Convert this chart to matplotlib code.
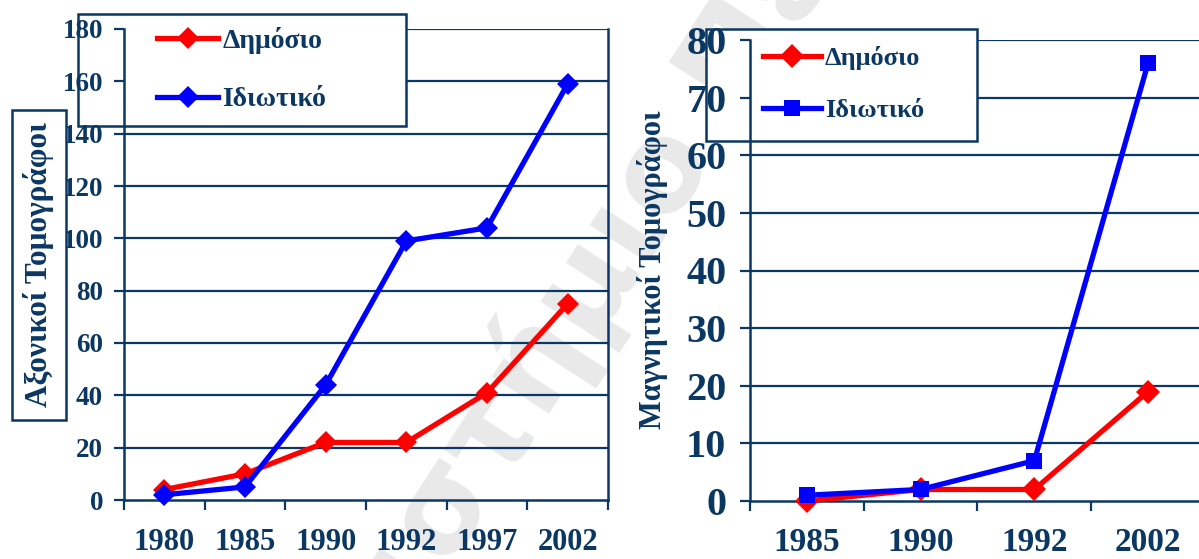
import matplotlib
matplotlib.use("Agg")
import matplotlib.pyplot as plt
from matplotlib.patches import Rectangle

# CT scanners (left chart)
ct_years = ['1980', '1985', '1990', '1992', '1997', '2002']
ct_public = [4, 10, 22, 22, 41, 75]
ct_private = [2, 5, 44, 99, 104, 159]

# MRI scanners (right chart)
mri_years = ['1985', '1990', '1992', '2002']
mri_public = [0, 2, 2, 19]
mri_private = [1, 2, 7, 76]

NAVY = '#0b3763'
RED = '#ff0000'
BLUE = '#0000ff'
FONT = 'Liberation Serif'

plt.rcParams['font.family'] = FONT
plt.rcParams['font.weight'] = 'bold'

W, H = 1199, 559
fig = plt.figure(figsize=(W / 100, H / 100), dpi=100)


def fig_box(left, top, right, bottom):
    """ pixel box (from top-left) -> figure fraction [l, b, w, h] """
    return [left / W, 1 - bottom / H, (right - left) / W, (bottom - top) / H]


def style_axes(ax, cats, ymax, ystep, xsize, ysize, ypad, xpad, right_spine):
    n = len(cats)
    ax.set_facecolor('none')
    ax.set_xlim(-0.5, n - 0.5)
    ax.set_ylim(0, ymax)
    ax.set_xticks([i - 0.5 for i in range(n + 1)])
    ax.set_xticklabels([])
    ax.set_xticks(range(n), minor=True)
    ax.set_xticklabels(cats, minor=True, fontsize=xsize, color=NAVY,
                       fontweight='bold')
    ax.tick_params(axis='x', which='major', direction='out', length=7.5,
                   width=1.6, color=NAVY)
    ax.tick_params(axis='x', which='minor', length=0, pad=xpad)
    yt = list(range(0, ymax + 1, ystep))
    ax.set_yticks(yt)
    ax.set_yticklabels([str(v) for v in yt], fontsize=ysize, color=NAVY,
                       fontweight='bold')
    ax.tick_params(axis='y', direction='out', length=7, width=1.6,
                   color=NAVY, pad=ypad)
    for v in yt[1:]:
        ax.axhline(v, color=NAVY, lw=1.6, zorder=0.6)
    ax.spines['top'].set_visible(False)
    ax.spines['right'].set_visible(right_spine)
    for s in ['left', 'bottom', 'right']:
        ax.spines[s].set_color(NAVY)
        ax.spines[s].set_linewidth(1.8)
        ax.spines[s].set_zorder(1.5)


# faint watermark behind everything
fig.text(0.50, 0.52, 'Πανεπιστήμιο Πειραιώς', rotation=57, fontsize=90,
         color='#e9e9e9', family='DejaVu Sans', fontweight='bold',
         ha='center', va='center', zorder=-5)

# ---------- left chart ----------
ax1 = fig.add_axes(fig_box(124, 29, 608, 500))
style_axes(ax1, ct_years, 180, 20, 22, 19.5, 8, 20, True)
x1 = range(len(ct_years))
ax1.plot(x1, ct_public, color=RED, lw=3.8, marker='D', ms=11.5, mew=0,
         label='Δημόσιο', clip_on=False, zorder=3)
ax1.plot(x1, ct_private, color=BLUE, lw=3.8, marker='D', ms=11.5, mew=0,
         label='Ιδιωτικό', clip_on=False, zorder=3)
ax1.add_patch(Rectangle((78 / W, 1 - 126 / H), 328 / W, 112 / H,
                        transform=fig.transFigure, facecolor='white',
                        edgecolor=NAVY, lw=1.8, zorder=1.0, clip_on=False))
leg1 = ax1.legend(loc='upper left', bbox_to_anchor=(157 / W, 1 - 27 / H),
                  bbox_transform=fig.transFigure, frameon=False,
                  prop={'family': FONT, 'weight': 'bold', 'size': 20},
                  handlelength=2.2, handletextpad=0.15, labelspacing=1.18,
                  borderpad=0, borderaxespad=0)
for t in leg1.get_texts():
    t.set_color(NAVY)

# boxed y label
fig.patches.append(Rectangle((12 / W, 1 - 420 / H), 54 / W, 310 / H,
                             transform=fig.transFigure, facecolor='white',
                             edgecolor=NAVY, lw=1.8, zorder=1))
fig.text(39 / W, 1 - 265 / H, 'Αξονικοί Τομογράφοι', rotation=90,
         ha='center', va='center', fontsize=22.5, color=NAVY,
         fontweight='bold', zorder=2)

# ---------- right chart ----------
ax2 = fig.add_axes(fig_box(750, 40, 1205, 501))
style_axes(ax2, mri_years, 80, 10, 24, 29, 10, 19, False)
x2 = range(len(mri_years))
ax2.plot(x2, mri_public, color=RED, lw=3.8, marker='D', ms=12, mew=0,
         label='Δημόσιο', clip_on=False, zorder=3)
ax2.plot(x2, mri_private, color=BLUE, lw=3.8, marker='s', ms=12, mew=0,
         label='Ιδιωτικό', clip_on=False, zorder=3)
ax2.add_patch(Rectangle((706 / W, 1 - 141 / H), 271 / W, 112 / H,
                        transform=fig.transFigure, facecolor='white',
                        edgecolor=NAVY, lw=1.8, zorder=1.0, clip_on=False))
leg2 = ax2.legend(loc='upper left', bbox_to_anchor=(763 / W, 1 - 46 / H),
                  bbox_transform=fig.transFigure, frameon=False,
                  prop={'family': FONT, 'weight': 'bold', 'size': 19},
                  handlelength=2.2, handletextpad=0.15, labelspacing=1.08,
                  borderpad=0, borderaxespad=0)
for t in leg2.get_texts():
    t.set_color(NAVY)

fig.text(652 / W, 1 - 270 / H, 'Μαγνητικοί Τομογράφοι', rotation=90,
         ha='center', va='center', fontsize=22, color=NAVY,
         fontweight='bold')

fig.savefig('out.png', dpi=100, facecolor='white')
